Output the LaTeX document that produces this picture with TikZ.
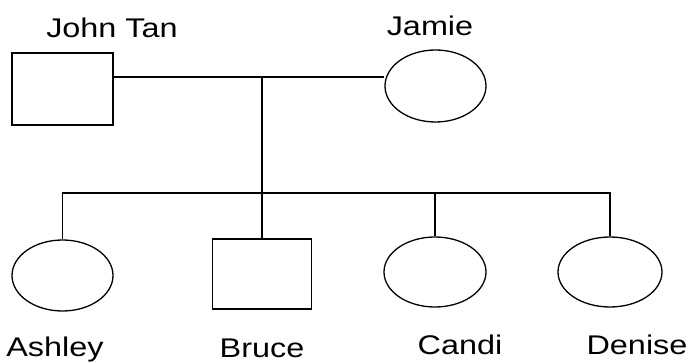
\documentclass[tikz,border=0pt]{standalone}
\usepackage{fontspec}
\setmainfont{Liberation Sans}
\usetikzlibrary{shapes.geometric}
\tikzset{
  line/.style={line width=1.3pt, black},
  male/.style={draw, line width=1.3pt, rectangle, inner sep=0pt},
  female/.style={draw, line width=1.3pt, ellipse, inner sep=0pt},
  lbl/.style={anchor=base, inner sep=0pt, font=\fontsize{27}{29}\selectfont},
}
\newcommand{\wide}[1]{\scalebox{1.2}[1]{#1}}
\begin{document}
\begin{tikzpicture}[x=1pt, y=-1pt]
\useasboundingbox (0,0) rectangle (691,363);
% parents
\node[male, minimum width=101pt, minimum height=72pt] (john) at (62.5,89) {};
\node[female, minimum width=101pt, minimum height=72pt] (jamie) at (435.5,86) {};
% children
\node[female, minimum width=101pt, minimum height=71pt] (ashley) at (62.5,275.5) {};
\node[male, minimum width=99pt, minimum height=70pt] (bruce) at (262,274) {};
\node[female, minimum width=102pt, minimum height=70pt] (candi) at (435,272) {};
\node[female, minimum width=104pt, minimum height=70pt] (denise) at (610,272) {};
% labels
\node[lbl] (ljohn) at (112,38) {\wide{John Tan}};
\node[lbl] (ljamie) at (430,36) {\wide{Jamie}};
\node[lbl] (lashley) at (55,357) {\wide{Ashley}};
\node[lbl] (lbruce) at (262,358) {\wide{Bruce}};
\node[lbl] (lcandi) at (460,355) {\wide{Candi}};
\node[lbl] (ldenise) at (637,355) {\wide{Denise}};
% connectors
\coordinate (m) at (262,77);
\coordinate (s) at (262,193);
\draw[line] (john.east |- m) -- (jamie.west |- m);
\draw[line] (m) -- (bruce.north);
\draw[line] (ashley.north) |- (s) -| (denise.north);
\draw[line] (candi.north |- s) -- (candi.north);
\end{tikzpicture}
\end{document}
